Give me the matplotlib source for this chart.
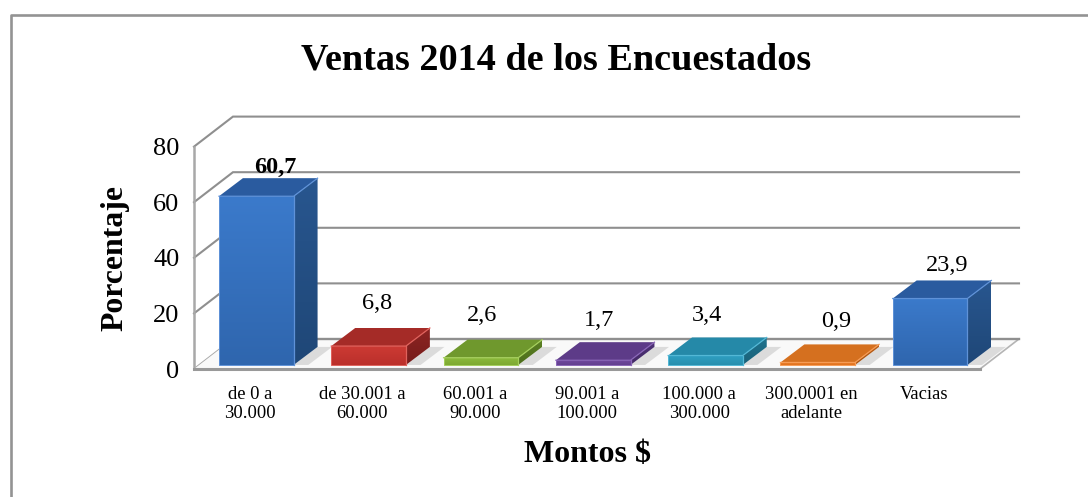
#!/usr/bin/env python3
import numpy as np
import matplotlib
matplotlib.use("Agg")
import matplotlib.pyplot as plt
from matplotlib.colors import LinearSegmentedColormap
from matplotlib.patches import Polygon

categories = ["de 0 a\n30.000", "de 30.001 a\n60.000", "60.001 a\n90.000", "90.001 a\n100.000",
              "100.000 a\n300.000", "300.0001 en\nadelante", "Vacias"]
values = [60.7, 6.8, 2.6, 1.7, 3.4, 0.9, 23.9]
value_labels = ["60,7", "6,8", "2,6", "1,7", "3,4", "0,9", "23,9"]
y_ticks = [0, 20, 40, 60, 80]

# front, front bottom, top, side, side bottom, edge
palette = [
    ("#3b7acb", "#2f66ae", "#2a5b9f", "#28568f", "#1f4777", "#5f92d8"),
    ("#cc3a34", "#bb302b", "#a52b27", "#8c2422", "#761c1b", "#e0625c"),
    ("#8cbb3c", "#7ea933", "#6f982d", "#5b8024", "#4d6e1c", "#a5cf5c"),
    ("#70489f", "#63408f", "#5d3b88", "#4e3276", "#432a66", "#8a66b8"),
    ("#2fa0c2", "#298fae", "#2589a8", "#1f738e", "#1a6178", "#53b8d6"),
    ("#ee7d26", "#e0731f", "#d5701f", "#b95e17", "#a65212", "#f79c55"),
    ("#3b7acb", "#2f66ae", "#2a5b9f", "#28568f", "#1f4777", "#5f92d8"),
]
label_dx = [19, 8, 1, 6, 1, 18, 17]  # px from bar centre
label_dy = [11, 24, 24, 22, 22, 23, 15]  # px above back of the bar top

WALL_DX, WALL_DY = 0.347, 10.8
BAR_DX, BAR_DY = 0.213, 6.5
BAR_W = 0.665
BASE_DX, BASE_DY = 0.055, 1.45
GRID = "#8f8f8f"
WALL = "#a8a8a8"

def shaded(ax, pts, c1, c2, z):
    # vertical gradient inside a polygon
    p = Polygon(pts, closed=True, fc="none", ec="none", zorder=z)
    ax.add_patch(p)
    xs, ys = zip(*pts)
    cmap = LinearSegmentedColormap.from_list("f", [c1, c2])
    im = ax.imshow(np.linspace(0, 1, 64)[:, None], cmap=cmap, aspect="auto", origin="upper",
                   extent=(min(xs), max(xs), min(ys), max(ys)), zorder=z)
    im.set_clip_path(p)

def bar3d(ax, x, h, colors, z):
    front, front2, top, side, side2, edge = colors
    x0 = x + BASE_DX - BAR_W / 2
    y0 = BASE_DY
    x1, y1 = x0 + BAR_W, y0 + h
    dx, dy = BAR_DX, BAR_DY
    # soft shadow on the floor
    ax.add_patch(Polygon([(x1, y0), (x1 + 0.13, y0), (x1 + dx + 0.13, y0 + dy), (x1 + dx, y0 + dy)],
                         fc="#d4d4d4", ec="none", alpha=0.8, zorder=z - 1))
    shaded(ax, [(x0, y0), (x1, y0), (x1, y1), (x0, y1)], front, front2, z)
    shaded(ax, [(x1, y0), (x1 + dx, y0 + dy), (x1 + dx, y1 + dy), (x1, y1)], side, side2, z)
    ax.add_patch(Polygon([(x0, y1), (x1, y1), (x1 + dx, y1 + dy), (x0 + dx, y1 + dy)],
                         fc=top, ec="none", zorder=z))
    ax.plot([x0, x1, x1 + dx], [y1, y1, y1 + dy], color=edge, lw=0.9, zorder=z + 0.1)
    ax.plot([x1, x1], [y0, y1], color=edge, lw=0.9, zorder=z + 0.1)
    ax.plot([x0, x0, x1], [y1, y0, y0], color=edge, lw=0.7, zorder=z + 0.1)

def main():
    plt.rcParams["font.family"] = ["Liberation Serif", "DejaVu Serif"]
    fig = plt.figure(figsize=(10.88, 4.97), dpi=100, facecolor="white")
    W, H = 1088.0, 497.0
    ax = fig.add_axes([194 / W, 1 - 369 / H, (1019 - 194) / W, (369 - 116.6) / H])
    n = len(categories)
    xmin, xmax = -0.5, n - 0.5

    # walls and grid
    for t in y_ticks[1:]:
        ax.plot([xmin, xmin + WALL_DX, xmax + WALL_DX], [t, t + WALL_DY, t + WALL_DY],
                color=GRID, lw=1.5, zorder=1, solid_joinstyle="miter", clip_on=False)
    ax.plot([xmin, xmin + WALL_DX], [0, WALL_DY], color=WALL, lw=1.3, zorder=1)
    ax.plot([xmin, xmin], [0, y_ticks[-1]], color=WALL, lw=1.8, zorder=1, clip_on=False)

    # floor
    ax.add_patch(Polygon([(xmin, 0), (xmax, 0), (xmax + WALL_DX, WALL_DY), (xmin + WALL_DX, WALL_DY)],
                         fc="#f9f9f9", ec="none", zorder=1.5))
    ax.plot([xmax, xmax + WALL_DX], [0, WALL_DY], color="#b5b5b5", lw=1.2, zorder=1.6, clip_on=False)
    ax.plot([xmin + WALL_DX, xmax + WALL_DX], [WALL_DY, WALL_DY], color=GRID, lw=1.7, zorder=1.6, clip_on=False)
    ax.plot([xmin, xmax], [0, 0], color="#999999", lw=2.2, zorder=1.7, clip_on=False)

    for i, v in enumerate(values):
        bar3d(ax, i, v, palette[i], 3 + i)
        cx = i + BASE_DX
        ax.annotate(value_labels[i], (cx, BASE_DY + v + BAR_DY), xytext=(label_dx[i] * 0.72, label_dy[i] * 0.72),
                    textcoords="offset points", ha="center", va="center", fontsize=17.5,
                    fontweight="bold" if i == 0 else "normal", color="black", zorder=20)

    ax.set_xlim(xmin, xmax + WALL_DX)
    ax.set_ylim(0, y_ticks[-1] + WALL_DY)
    ax.set_xticks(range(n), categories, fontsize=13.4, linespacing=1.2)
    ax.set_yticks(y_ticks)
    ax.tick_params(axis="x", length=0, pad=12)
    ax.tick_params(axis="y", length=0, pad=10.5, labelsize=19)
    for s in ax.spines.values():
        s.set_visible(False)
    ax.patch.set_alpha(0)

    fig.text(115 / W, 1 - 258 / H, "Porcentaje", rotation=90, ha="center", va="center",
             fontsize=22.9, fontweight="bold")
    fig.text(587 / W, 1 - 454 / H, "Montos $", ha="center", va="center", fontsize=23, fontweight="bold")
    fig.text(556 / W, 1 - 60 / H, "Ventas 2014 de los Encuestados", ha="center", va="center",
             fontsize=27.5, fontweight="bold")

    # frame: only top and left edges show in the picture
    fig.add_artist(plt.Line2D([10.5 / W, 10.5 / W, 1], [0, 1 - 14.5 / H, 1 - 14.5 / H],
                              transform=fig.transFigure, color="#939393", lw=1.9))
    fig.savefig("out.png", dpi=100)
    plt.close(fig)

if __name__ == "__main__":
    main()
